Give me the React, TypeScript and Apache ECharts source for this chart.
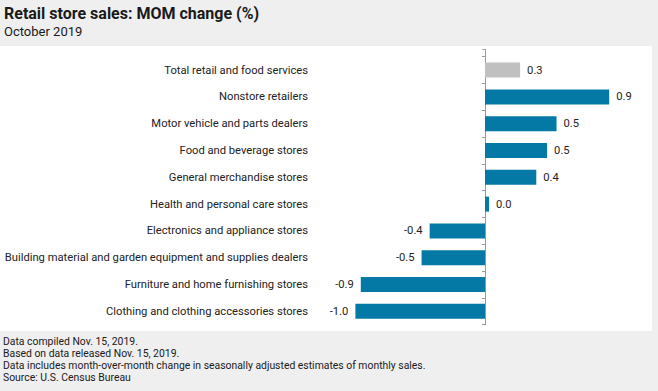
import React, { useEffect, useRef } from "react";
import * as echarts from "echarts";

const categories = [
  "Total retail and food services",
  "Nonstore retailers",
  "Motor vehicle and parts dealers",
  "Food and beverage stores",
  "General merchandise stores",
  "Health and personal care stores",
  "Electronics and appliance stores",
  "Building material and garden equipment and supplies dealers",
  "Furniture and home furnishing stores",
  "Clothing and clothing accessories stores",
];
const values = [0.26, 0.92, 0.53, 0.46, 0.38, 0.03, -0.41, -0.47, -0.92, -0.96];
const totalCategory = "Total retail and food services";

const titleText = "Retail store sales: MOM change (%)";
const subtitleText = "October 2019";
const footerLines = [
  "Data compiled Nov. 15, 2019.",
  "Based on data released Nov. 15, 2019.",
  "Data includes month-over-month change in seasonally adjusted estimates of monthly sales.",
  "Source: U.S. Census Bureau",
];

const BLUE = "#0579a6";
const GRAY = "#c0c0c0";
const FONT = "Roboto";

export default function App() {
  const ref = useRef<HTMLDivElement>(null);
  useEffect(() => {
    if (!ref.current) return;
    const chart = echarts.init(ref.current, null, { renderer: "svg" });
    const gridTop = 56.7;
    const gridBottom = 66.3;
    chart.setOption({
      animation: false,
      backgroundColor: "#efefef",
      grid: { left: 323, right: 11, top: gridTop, bottom: gridBottom, containLabel: false },
      xAxis: {
        type: "value",
        min: -1.2,
        max: 1.2,
        show: false,
      },
      yAxis: [
        {
          type: "category",
          data: categories,
          inverse: true,
          axisLine: { show: false, onZero: false },
          axisTick: { show: false },
          axisLabel: {
            margin: 15,
            color: "#222",
            fontFamily: FONT,
            fontSize: 11.2,
          },
        },
        {
          type: "category",
          data: categories,
          inverse: true,
          position: "left",
          axisLine: { show: true, onZero: true, lineStyle: { color: "#999", width: 1 } },
          axisTick: { show: true, length: 3, lineStyle: { color: "#999" } },
          axisLabel: { show: false },
        },
      ],
      series: [
        {
          type: "bar",
          yAxisIndex: 0,
          barWidth: 15,
          data: values.map((v, i) => ({
            value: v,
            itemStyle: { color: categories[i] === totalCategory ? GRAY : BLUE },
            label: { position: v >= 0 ? "right" : "left" },
          })),
          label: {
            show: true,
            distance: 7,
            color: "#222",
            fontFamily: FONT,
            fontSize: 11.2,
            formatter: (p: any) => (Math.round(p.value * 10) / 10).toFixed(1),
          },
        },
      ],
      graphic: [
        {
          id: "panel",
          type: "rect",
          shape: { x: 0, y: 46, width: 652, height: 285 },
          style: { fill: "#ffffff" },
          z: -10,
        },
        {
          id: "title",
          type: "text",
          left: 4,
          top: 5,
          style: { text: titleText, font: `bold 16px ${FONT}`, fill: "#1a1a1a" },
        },
        {
          id: "subtitle",
          type: "text",
          left: 4,
          top: 25,
          style: { text: subtitleText, font: `13px ${FONT}`, fill: "#1a1a1a" },
        },
        ...footerLines.map((t, i) => ({
          id: "foot" + i,
          type: "text",
          left: 3,
          top: 336 + i * 12,
          style: { text: t, font: `10.4px ${FONT}`, fill: "#1a1a1a" },
        })),
      ],
    });
    const x0 = chart.convertToPixel({ xAxisIndex: 0 }, 0) as number;
    const xz = Math.round(x0) + 0.5;
    chart.setOption({
      graphic: [
        {
          id: "axisExt",
          type: "line",
          shape: { x1: xz, y1: 49, x2: xz, y2: gridTop },
          style: { stroke: "#999", lineWidth: 1 },
        },
        {
          id: "axisExtTick",
          type: "line",
          shape: { x1: xz - 3, y1: 49.5, x2: xz, y2: 49.5 },
          style: { stroke: "#999", lineWidth: 1 },
        },
      ],
    });
    return () => chart.dispose();
  }, []);
  return (
    <div
      ref={ref}
      style={{ position: "fixed", left: 0, top: 0, width: 658, height: 391 }}
    />
  );
}
